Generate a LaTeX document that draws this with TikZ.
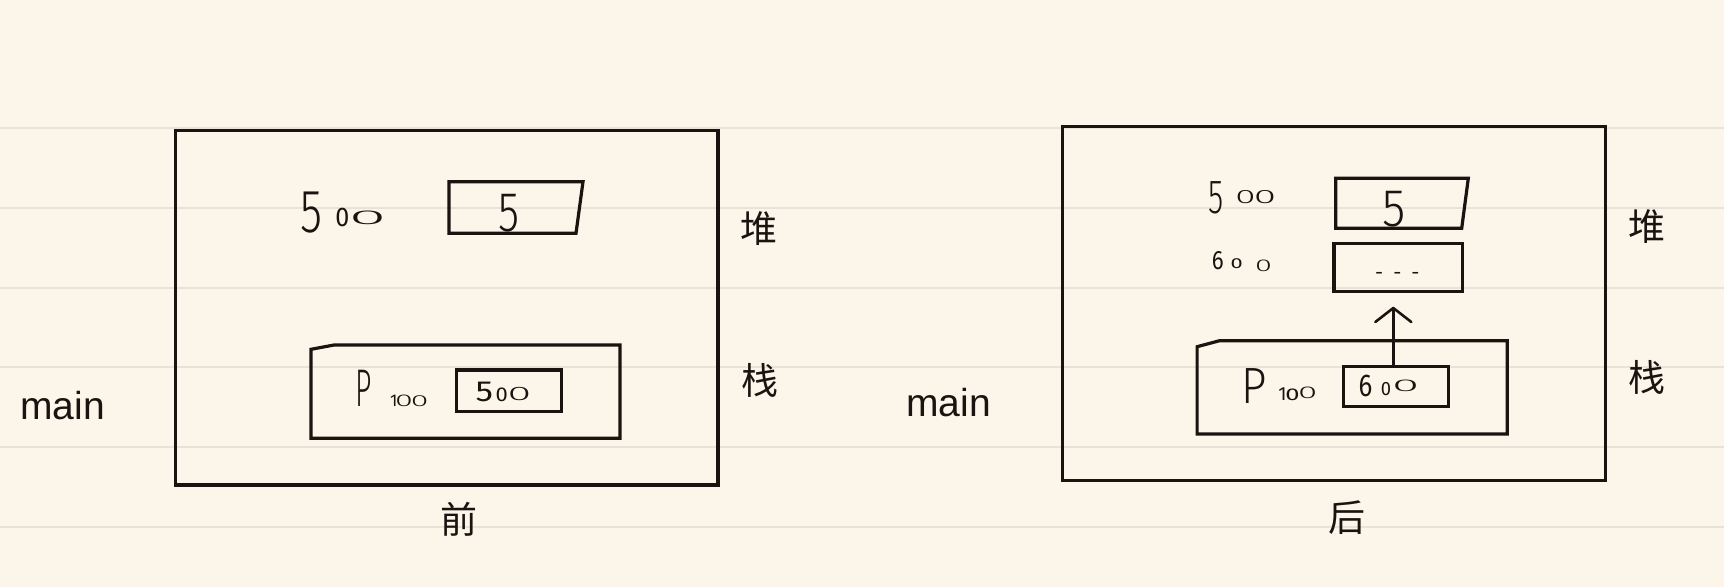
\documentclass[tikz,border=0pt]{standalone}
\usepackage{fontspec}
\setmainfont{Liberation Sans}
\newfontfamily\cjk{Noto Sans CJK SC}
\newfontfamily\hand{Fira Sans Light}
\newfontfamily\handr{Fira Sans}
\usetikzlibrary{arrows.meta}
\definecolor{paper}{RGB}{252,246,234}
\definecolor{ruling}{RGB}{232,226,216}
\definecolor{ink}{RGB}{28,18,16}
% one handwritten-looking glyph: font, horizontal scale, size, character, raise
\newcommand\gl[5]{\makebox[0pt][l]{\raisebox{#5}{\scalebox{#2}[1]{#1\fontsize{#3}{#3}\selectfont #4}}}}
\begin{document}
\begin{tikzpicture}[x=1pt,y=-1pt,
  ruleline/.style={draw=ruling, line width=2pt},
  frame/.style={draw=ink, line width=3.2pt, line join=miter},
  cell/.style={draw=ink, line width=3.2pt, line join=miter},
  valbox/.style={draw=ink, line width=3.2pt, inner sep=0pt, outer sep=0pt},
  cjklbl/.style={text=ink, inner sep=0pt, font=\cjk\fontsize{37}{37}\selectfont},
  mainlbl/.style={text=ink, inner sep=0pt, anchor=base west, font=\fontsize{39}{39}\selectfont},
  hw/.style={text=ink, inner sep=0pt, anchor=base west},
  arr/.style={draw=ink, line width=2.6pt, line cap=round, -{Straight Barb[length=14pt,width=36pt,line cap=round,line join=round]}}
]
\fill[paper] (0,0) rectangle (1724,587);
\useasboundingbox (0,0) rectangle (1724,587);
\foreach \yy in {128,207.8,287.6,367.4,447.2,527} \draw[ruleline] (0,\yy) -- (1724,\yy);

% ---------- left panel (before) ----------
\draw[frame] (175.3,130.7) rectangle (718,485);
\draw[cell] (449,181.7) -- (583,181.7) -- (576,233.3) -- (449,233.3) -- cycle;
\draw[cell] (311,349.3) -- (334,345) -- (620,345) -- (620,438.3) -- (311,438.3) -- cycle;
\node[valbox, minimum width=105.2pt, minimum height=41.7pt] (pv1) at (509.2,390.85) {};

\node[hw] (haddr1) at (300,232.3) {\gl\hand{0.74}{61}{5}{0pt}\hspace{35.2pt}\gl\handr{0.93}{27}{0}{5.6pt}\hspace{13.5pt}\gl\hand{3.4}{20}{0}{8.3pt}};
\node[hw] (hval1) at (497.4,231.7) {\gl\hand{0.77}{56}{5}{0pt}};
\node[hw] (pname1) at (354.4,406.7) {\gl\hand{0.54}{53}{P}{0pt}};
\node[hw] (paddr1) at (389.8,406.7) {\gl\handr{1}{17}{1}{0pt}\hspace{5.2pt}\gl\hand{1.9}{17}{0}{0pt}\hspace{15.7pt}\gl\hand{2}{16}{0}{0.5pt}};
\node[hw] (pval1t) at (475.4,401.7) {\gl\handr{1.2}{29}{5}{0pt}\hspace{20.1pt}\gl\handr{1.1}{20}{0}{0pt}\hspace{11.8pt}\gl\hand{2.2}{19.5}{0}{1.7pt}};

\node[cjklbl] (heap1) at (759.2,228.3) {堆};
\node[cjklbl] (stack1) at (760,380.5) {栈};
\node[cjklbl] (before) at (459,519) {前};
\node[mainlbl] (main1) at (20,419.3) {main};

% ---------- right panel (after) ----------
\draw[frame] (1062.4,126.7) rectangle (1605.3,480.7);
\draw[cell] (1335.7,178.3) -- (1468.3,178.3) -- (1461.7,228.3) -- (1335.7,228.3) -- cycle;
\node[valbox, minimum width=128.7pt, minimum height=48.4pt] (hb2) at (1398.35,267.5) {};
\draw[cell] (1197.1,346.7) -- (1219.6,340.7) -- (1507.3,340.7) -- (1507.3,434) -- (1197.1,434) -- cycle;
\node[valbox, minimum width=105pt, minimum height=40pt] (pv2) at (1395.8,386.7) {};

\node[hw] (haddr2) at (1208.1,213.3) {\gl\hand{0.65}{48}{5}{0pt}\hspace{27pt}\gl\hand{1.9}{19.3}{0}{10pt}\hspace{18.5pt}\gl\hand{2.1}{19.3}{0}{10pt}};
\node[hw] (haddr3) at (1211.7,269.3) {\gl\handr{0.84}{26.5}{6}{0pt}\hspace{18.6pt}\gl\handr{1.5}{14.5}{0}{1.3pt}\hspace{24.6pt}\gl\hand{1.8}{17}{0}{-2.4pt}};
\node[hw] (hval2) at (1382.1,226.7) {\gl\hand{0.9}{53}{5}{0pt}};
\node[hw] (hval3) at (1375,279.3) {\handr\fontsize{20}{20}\selectfont -\hspace{10pt}-\hspace{10pt}-};
\node[hw] (pname2) at (1241,403.3) {\gl\hand{0.87}{51}{P}{0pt}};
\node[hw] (paddr2) at (1278.1,400) {\gl\handr{1}{19}{1}{0pt}\hspace{7pt}\gl\handr{1.5}{17}{0}{0pt}\hspace{12.8pt}\gl\hand{2.05}{17}{0}{1.7pt}};
\node[hw] (pval2t) at (1358.4,396.7) {\gl\handr{0.82}{31.5}{6}{0pt}\hspace{22.2pt}\gl\handr{0.95}{19.3}{0}{1.7pt}\hspace{11.4pt}\gl\hand{2.9}{17}{0}{5pt}};

\coordinate (tip) at (1393.3,306.7);
\draw[arr] (tip |- pv2.north) -- (tip);

\node[cjklbl] (heap2) at (1646.5,226.5) {堆};
\node[cjklbl] (stack2) at (1646.5,377) {栈};
\node[cjklbl] (after) at (1346.5,517.5) {后};
\node[mainlbl] (main2) at (906,416) {main};
\end{tikzpicture}
\end{document}
